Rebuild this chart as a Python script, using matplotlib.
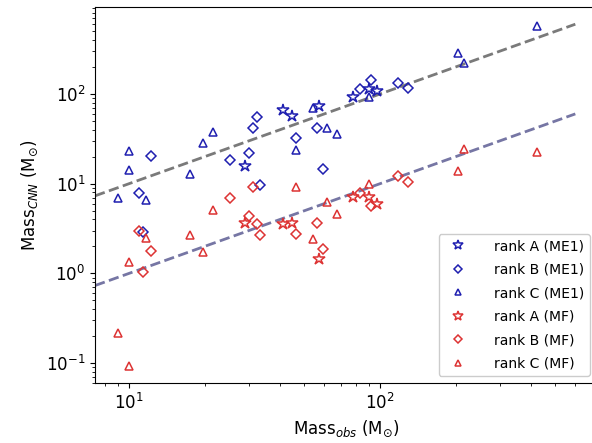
import numpy as np
import matplotlib
matplotlib.use("Agg")
import matplotlib.pyplot as plt

# ---- data ----
me1_A_x = [29.0, 41.1, 44.8, 57.1, 78.0, 90.4, 97.7]
me1_A_y = [15.8, 66.3, 56.8, 73.5, 92.6, 114, 108]
mf_A_x = [29.0, 41.1, 44.8, 57.1, 78.0, 90.4, 97.7]
mf_A_y = [3.65, 3.56, 3.65, 1.45, 7.11, 7.11, 5.94]

me1_B_x = [11.0, 11.4, 12.2, 25.3, 30.2, 31.2, 32.4, 33.4, 46.1, 56.1, 59.3, 83.6, 92.1, 118, 129]
me1_B_y = [7.87, 2.90, 20.4, 18.4, 22.0, 41.8, 55.4, 9.67, 32.3, 41.8, 14.6, 114, 143, 133, 117]
mf_B_x = [11.0, 11.4, 12.2, 25.3, 30.2, 31.2, 32.4, 33.4, 46.1, 56.1, 59.3, 83.6, 92.1, 118, 129]
mf_B_y = [2.97, 1.04, 1.78, 6.93, 4.37, 9.19, 3.56, 2.68, 2.75, 3.65, 1.87, 7.87, 5.64, 12.2, 10.4]

me1_C_x = [9.0, 10.0, 10.0, 11.7, 17.5, 19.7, 21.6, 46.1, 54.1, 61.5, 67.4, 90.4, 205, 216, 422]
me1_C_y = [6.93, 23.2, 14.2, 6.58, 12.8, 28.4, 37.7, 23.7, 69.8, 41.8, 35.8, 92.6, 286, 221, 573]
mf_C_x = [9.0, 10.0, 10.0, 11.7, 17.5, 19.7, 21.6, 46.1, 54.1, 61.5, 67.4, 90.4, 205, 216, 422]
mf_C_y = [0.217, 1.34, 0.093, 2.48, 2.68, 1.73, 5.09, 9.19, 2.42, 6.25, 4.59, 10.0, 13.9, 24.4, 22.6]

fit_x = [5, 600]
ratio_me1 = 1.0
ratio_mf = 0.1

BLUE = '#1f1fb0'
RED = '#dd3333'

fig = plt.figure(figsize=(5.92, 4.43), dpi=100)
ax = fig.add_axes([95/592, 1 - 383/443, (597 - 95)/592, (383 - 7)/443])

fx = np.array(fit_x, dtype=float)
ax.plot(fx, fx * ratio_me1, ls='--', color='#7a7a7a', lw=2, zorder=1)
ax.plot(fx, fx * ratio_mf, ls='--', color='#7676a4', lw=2, zorder=1)

base = dict(ls='none', mfc='none', mew=1.1)
ax.plot(me1_A_x, me1_A_y, marker='*', mec=BLUE, label='rank A (ME1)', ms=9, **base)
ax.plot(me1_B_x, me1_B_y, marker='D', mec=BLUE, label='rank B (ME1)', ms=5.5, **base)
ax.plot(me1_C_x, me1_C_y, marker='^', mec=BLUE, label='rank C (ME1)', ms=6, **base)
ax.plot(mf_A_x, mf_A_y, marker='*', mec=RED, label='rank A (MF)', ms=9, **base)
ax.plot(mf_B_x, mf_B_y, marker='D', mec=RED, label='rank B (MF)', ms=5.5, **base)
ax.plot(mf_C_x, mf_C_y, marker='^', mec=RED, label='rank C (MF)', ms=6, **base)

ax.set_xscale('log')
ax.set_yscale('log')
ax.set_xlim(7.32, 732)
ax.set_ylim(0.060, 933)

ax.tick_params(axis='both', which='major', labelsize=12)
ax.set_xlabel(r'Mass$_{obs}$ (M$_{\odot}$)', fontsize=12)
ax.set_ylabel(r'Mass$_{CNN}$ (M$_{\odot}$)', fontsize=12)

ax.legend(loc='lower right', fontsize=10, labelspacing=0.68, handletextpad=1.6,
          borderaxespad=0.5, framealpha=1.0, markerscale=0.8)

fig.savefig('out.png', dpi=100)
